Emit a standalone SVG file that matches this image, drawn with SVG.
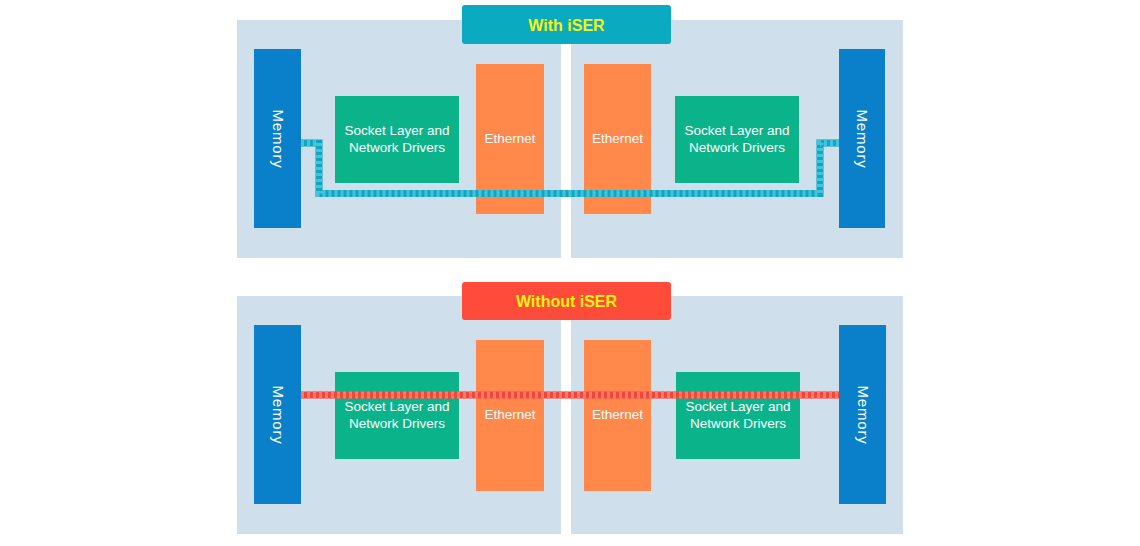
<svg xmlns="http://www.w3.org/2000/svg" width="1140" height="546" viewBox="0 0 1140 546">
<style>
.panel{fill:#CFDFEB}
.mem{fill:#0A7FCA}
.sock{fill:#0BB38A}
.eth{fill:#FF884A}
.t{font-family:"Century Gothic","Liberation Sans",sans-serif;font-size:13.5px;fill:#FFFFFF;text-anchor:middle}
.m{font-size:15px;letter-spacing:0.8px}
.title{font-family:"Liberation Sans",sans-serif;font-size:16px;font-weight:bold;fill:#F5F50F;text-anchor:middle}
.cbase{fill:none;stroke-width:7;stroke-linejoin:miter}
.cdash{fill:none;stroke-width:7;stroke-dasharray:3 3;stroke-linejoin:miter}
</style>
<rect width="1140" height="546" fill="#FFFFFF"/>
<!-- top section -->
<g id="top-left-panel"><rect class="panel" x="237" y="20" width="324" height="238"/></g>
<g id="top-right-panel"><rect class="panel" x="571" y="20" width="332" height="238"/></g>
<g id="top-title"><rect x="462" y="5" width="209" height="39" rx="3" fill="#0AABC0"/><text class="title" x="566.5" y="30.5">With iSER</text></g>
<g id="top-mem-left"><rect class="mem" x="254" y="49" width="47" height="179"/><text class="t m" transform="translate(277.5,139) rotate(90)" y="5">Memory</text></g>
<g id="top-sock-left"><rect class="sock" x="335" y="96" width="124" height="87"/><text class="t" x="397" y="135">Socket Layer and</text><text class="t" x="397" y="152">Network Drivers</text></g>
<g id="top-eth-left"><rect class="eth" x="476" y="64" width="68" height="150"/><text class="t" x="510" y="143">Ethernet</text></g>
<g id="top-eth-right"><rect class="eth" x="584" y="64" width="67" height="150"/><text class="t" x="617.5" y="143">Ethernet</text></g>
<g id="top-sock-right"><rect class="sock" x="675" y="96" width="124" height="87"/><text class="t" x="737" y="135">Socket Layer and</text><text class="t" x="737" y="152">Network Drivers</text></g>
<g id="top-mem-right"><rect class="mem" x="839" y="49" width="46" height="179"/><text class="t m" transform="translate(862,139) rotate(90)" y="5">Memory</text></g>
<!-- bottom section -->
<g id="bot-left-panel"><rect class="panel" x="237" y="296" width="324" height="238"/></g>
<g id="bot-right-panel"><rect class="panel" x="571" y="296" width="332" height="238"/></g>
<g id="bot-title"><rect x="462" y="282" width="209" height="38" rx="3" fill="#FF4B3A"/><text class="title" x="566.5" y="307">Without iSER</text></g>
<g id="bot-mem-left"><rect class="mem" x="254" y="325" width="47" height="179"/><text class="t m" transform="translate(277.5,415) rotate(90)" y="5">Memory</text></g>
<g id="bot-sock-left"><rect class="sock" x="335" y="372" width="124" height="87"/><text class="t" x="397" y="411">Socket Layer and</text><text class="t" x="397" y="428">Network Drivers</text></g>
<g id="bot-eth-left"><rect class="eth" x="476" y="340" width="68" height="151"/><text class="t" x="510" y="419">Ethernet</text></g>
<g id="bot-eth-right"><rect class="eth" x="584" y="340" width="67" height="151"/><text class="t" x="617.5" y="419">Ethernet</text></g>
<g id="bot-sock-right"><rect class="sock" x="676" y="372" width="124" height="87"/><text class="t" x="738" y="411">Socket Layer and</text><text class="t" x="738" y="428">Network Drivers</text></g>
<g id="bot-mem-right"><rect class="mem" x="839" y="325" width="47" height="179"/><text class="t m" transform="translate(862.5,415) rotate(90)" y="5">Memory</text></g>
<!-- connectors -->
<g id="connectors">
<path class="cbase" stroke="#12A5C0" d="M301,143 H319 V193.5 H820 V143 H839"/>
<path class="cdash" stroke="#45C3DA" d="M301,143 H319 V193.5 H820 V143 H839"/>
<path class="cbase" stroke="#F5453A" d="M301,395 H839"/>
<path class="cdash" stroke="#FF7A6A" d="M301,395 H839"/>
</g>
</svg>
